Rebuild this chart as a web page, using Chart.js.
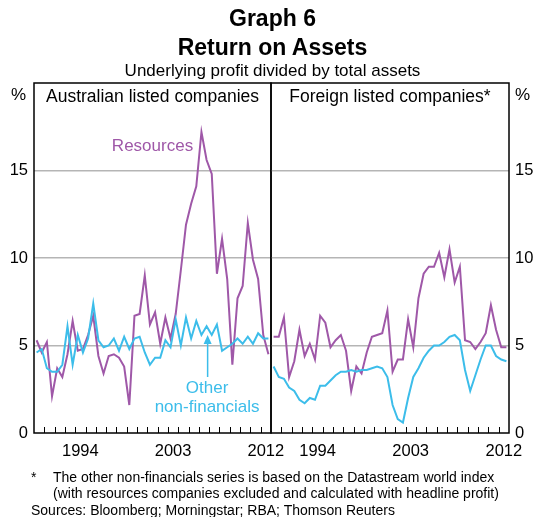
<!DOCTYPE html>
<html>
<head>
<meta charset="utf-8">
<script src="https://cdn.jsdelivr.net/npm/chart.js@4.4.1/dist/chart.umd.min.js"></script>
<style>
body { margin: 0; background: #fff; font-family: "Liberation Sans", Arial, sans-serif; }
#wrap { position: relative; width: 545px; height: 517px; overflow: hidden; background: #fff; }
canvas { position: absolute; left: 0; top: 0; }
.t { position: absolute; white-space: nowrap; color: #000; }
.c { left: 0; width: 545px; text-align: center; }
</style>
</head>
<body>
<div id="wrap">
  <canvas id="leftChart" width="545" height="517"></canvas>
  <canvas id="rightChart" width="545" height="517"></canvas>
  <div class="t c" style="top:5px;font-size:23px;line-height:26px;font-weight:bold">Graph 6</div>
  <div class="t c" style="top:34px;font-size:23px;line-height:26px;font-weight:bold">Return on Assets</div>
  <div class="t c" style="top:61px;font-size:17px;line-height:20px">Underlying profit divided by total assets</div>
  <div class="t" style="left:11px;top:85px;font-size:17px;line-height:20px">%</div>
  <div class="t" style="left:515px;top:85px;font-size:17px;line-height:20px">%</div>
  <div class="t" style="left:34px;width:237px;text-align:center;top:86px;font-size:17.5px;line-height:20px">Australian listed companies</div>
  <div class="t" style="left:271px;width:238px;text-align:center;top:86px;font-size:17.5px;line-height:20px">Foreign listed companies*</div>
  <div class="t" style="left:31px;top:469px;font-size:14px;line-height:16px">*</div>
  <div class="t" style="left:53px;top:469px;font-size:14px;line-height:16px">The other non-financials series is based on the Datastream world index<br>(with resources companies excluded and calculated with headline profit)</div>
  <div class="t" style="left:31px;top:502px;font-size:14px;line-height:16px">Sources: Bloomberg; Morningstar; RBA; Thomson Reuters</div>
</div>
<script>
const periods = [1990.25, 1990.75, 1991.25, 1991.75, 1992.25, 1992.75, 1993.25, 1993.75,
  1994.25, 1994.75, 1995.25, 1995.75, 1996.25, 1996.75, 1997.25, 1997.75,
  1998.25, 1998.75, 1999.25, 1999.75, 2000.25, 2000.75, 2001.25, 2001.75,
  2002.25, 2002.75, 2003.25, 2003.75, 2004.25, 2004.75, 2005.25, 2005.75,
  2006.25, 2006.75, 2007.25, 2007.75, 2008.25, 2008.75, 2009.25, 2009.75,
  2010.25, 2010.75, 2011.25, 2011.75, 2012.25, 2012.75];

const ausResources = [5.3, 4.6, 5.2, 2.1, 3.7, 3.2, 4.5, 6.4, 4.7, 4.8, 5.6, 6.7, 4.4, 3.4, 4.4, 4.5,
  4.3, 3.8, 1.6, 6.7, 6.8, 9.0, 6.2, 6.9, 5.1, 6.6, 5.4, 6.8, 9.3, 11.9, 13.1, 14.1,
  17.2, 15.6, 14.8, 9.1, 11.1, 8.8, 3.9, 7.7, 8.4, 12.0, 9.9, 8.8, 5.6, 4.5];
const ausOther = [4.6, 4.8, 3.7, 3.5, 3.5, 3.9, 6.1, 3.9, 5.6, 4.6, 5.4, 7.4, 5.3, 4.9, 5.0, 5.4,
  4.7, 5.5, 4.8, 5.4, 5.5, 4.6, 3.9, 4.3, 4.3, 5.3, 4.9, 6.5, 5.0, 6.6, 5.4, 6.4,
  5.6, 6.1, 5.6, 6.2, 4.7, 4.9, 5.1, 5.4, 5.1, 5.5, 5.1, 5.7, 5.4, 5.4];
const forResources = [5.5, 5.5, 6.6, 3.2, 4.1, 5.9, 4.4, 5.1, 4.2, 6.7, 6.3, 4.9, 5.3, 5.6, 4.7, 2.4,
  3.8, 3.4, 4.6, 5.5, 5.6, 5.7, 7.0, 3.5, 4.2, 4.2, 6.5, 4.9, 7.7, 9.1, 9.5, 9.5,
  10.3, 8.9, 10.5, 8.6, 9.5, 5.3, 5.2, 4.8, 5.2, 5.7, 7.3, 5.9, 4.9, 4.9];
const forOther = [3.8, 3.2, 3.1, 2.6, 2.4, 1.9, 1.7, 2.0, 1.9, 2.7, 2.7, 3.0, 3.3, 3.5, 3.5, 3.6,
  3.5, 3.6, 3.6, 3.7, 3.8, 3.7, 3.2, 1.6, 0.8, 0.6, 2.0, 3.2, 3.7, 4.3, 4.7, 5.0,
  5.0, 5.2, 5.5, 5.6, 5.3, 3.6, 2.4, 3.3, 4.2, 5.0, 5.0, 4.4, 4.2, 4.1];

const yTicks = [0, 5, 10, 15];
const xLabels = ["1994", "2003", "2012"];
const xLabelAt = [1994.5, 2003.5, 2012.5];

const PURPLE = "#9f58a8";
const CYAN = "#3cbdea";
const FONT = "'Liberation Sans', Arial, sans-serif";

Chart.defaults.font.family = FONT;
Chart.defaults.color = "#000";

const framePlugin = {
  id: "frame",
  afterDraw(chart) {
    const { ctx, chartArea: a, scales: { x } } = chart;
    ctx.save();
    ctx.strokeStyle = "#000";
    ctx.lineWidth = 1;
    for (let yr = 1991; yr <= 2012; yr++) {
      const px = Math.round(x.getPixelForValue(yr)) + 0.5;
      ctx.beginPath();
      ctx.moveTo(px, a.bottom);
      ctx.lineTo(px, a.bottom - 6);
      ctx.stroke();
    }
    ctx.lineWidth = 1.5;
    ctx.strokeRect(a.left, a.top, a.right - a.left, a.bottom - a.top);
    ctx.restore();
  }
};

const notesPlugin = {
  id: "notes",
  afterDatasetsDraw(chart, args, opts) {
    const { ctx, scales: { x, y } } = chart;
    ctx.save();
    ctx.textAlign = "center";
    ctx.textBaseline = "middle";
    ctx.font = "17px " + FONT;
    (opts.texts || []).forEach(n => {
      ctx.fillStyle = n.color;
      ctx.fillText(n.text, x.getPixelForValue(n.x), y.getPixelForValue(n.y));
    });
    (opts.arrows || []).forEach(ar => {
      const px = x.getPixelForValue(ar.x);
      const y0 = y.getPixelForValue(ar.from);
      const y1 = y.getPixelForValue(ar.to);
      ctx.strokeStyle = ar.color;
      ctx.fillStyle = ar.color;
      ctx.lineWidth = 1.5;
      ctx.beginPath();
      ctx.moveTo(px, y0);
      ctx.lineTo(px, y1 + 8);
      ctx.stroke();
      ctx.beginPath();
      ctx.moveTo(px, y1);
      ctx.lineTo(px - 4, y1 + 9);
      ctx.lineTo(px + 4, y1 + 9);
      ctx.closePath();
      ctx.fill();
    });
    ctx.restore();
  }
};

function makeChart(id, resources, other, side, notes) {
  const pad = side === "left"
    ? { left: 0, right: 274, top: 83, bottom: 54 }
    : { left: 271, right: 0, top: 83, bottom: 54 };
  return new Chart(document.getElementById(id), {
    type: "line",
    data: {
      datasets: [
        {
          label: "Other non-financials",
          data: periods.map((p, i) => ({ x: p, y: other[i] })),
          borderColor: CYAN,
          borderWidth: 2,
          pointRadius: 0,
          tension: 0
        },
        {
          label: "Resources",
          data: periods.map((p, i) => ({ x: p, y: resources[i] })),
          borderColor: PURPLE,
          borderWidth: 2,
          pointRadius: 0,
          tension: 0
        }
      ]
    },
    options: {
      responsive: false,
      animation: false,
      events: [],
      layout: { padding: pad },
      plugins: {
        legend: { display: false },
        tooltip: { enabled: false },
        notes: notes
      },
      scales: {
        x: {
          type: "linear",
          min: 1990,
          max: 2013,
          afterBuildTicks: s => { s.ticks = xLabelAt.map(v => ({ value: v })); },
          afterFit: s => { s.height = 30; },
          grid: { display: false, drawTicks: false },
          border: { display: false },
          ticks: {
            autoSkip: false,
            maxRotation: 0,
            padding: 9,
            font: { size: 16.5 },
            color: "#000",
            callback: (v, i) => xLabels[i]
          }
        },
        y: {
          position: side,
          min: 0,
          max: 20,
          afterBuildTicks: s => { s.ticks = yTicks.map(v => ({ value: v })); },
          afterFit: s => { s.width = side === "left" ? 34 : 36; },
          grid: {
            drawTicks: false,
            lineWidth: 1.5,
            color: c => (c.tick && c.tick.value === 0) ? "rgba(0,0,0,0)" : "#b5b5b5"
          },
          border: { display: false },
          ticks: {
            padding: 6,
            font: { size: 16.5 },
            color: "#000"
          }
        }
      }
    },
    plugins: [framePlugin, notesPlugin]
  });
}

makeChart("leftChart", ausResources, ausOther, "left", {
  texts: [
    { text: "Resources", x: 2001.5, y: 16.4, color: PURPLE },
    { text: "Other", x: 2006.8, y: 2.55, color: CYAN },
    { text: "non-financials", x: 2006.8, y: 1.45, color: CYAN }
  ],
  arrows: [{ x: 2006.85, from: 3.2, to: 5.6, color: CYAN }]
});
makeChart("rightChart", forResources, forOther, "right", {});
</script>
</body>
</html>
